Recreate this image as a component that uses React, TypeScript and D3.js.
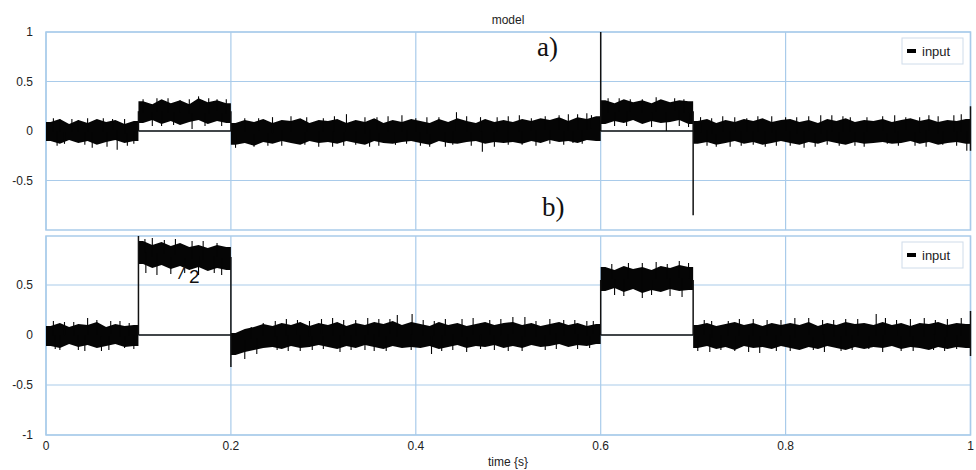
import React from "react";
import * as d3 from "d3";

// ---------- data ----------
const xTicks = [0, 0.2, 0.4, 0.6, 0.8, 1];
const xTickLabels = ["0", "0.2", "0.4", "0.6", "0.8", "1"];
const yTicksTop = [1, 0.5, 0, -0.5];
const yTicksBottom = [0.5, 0, -0.5, -1];
const segmentBreaks = [0, 0.1, 0.2, 0.6, 0.7, 1];
const inputPulses = [[0.1, 0.2], [0.6, 0.7]];

// panel a) output envelope, one value per 0.01 s bin
const topUpper = [
  0.09, 0.12, 0.07, 0.11, 0.08, 0.12, 0.09, 0.11, 0.07, 0.10,
  0.30, 0.27, 0.32, 0.28, 0.31, 0.27, 0.33, 0.29, 0.31, 0.28,
  0.08, 0.11, 0.09, 0.12, 0.08, 0.11, 0.10, 0.13, 0.08, 0.11,
  0.10, 0.12, 0.08, 0.11, 0.09, 0.13, 0.08, 0.11, 0.09, 0.12,
  0.10, 0.08, 0.12, 0.09, 0.13, 0.10, 0.08, 0.12, 0.09, 0.11,
  0.09, 0.12, 0.10, 0.13, 0.11, 0.14, 0.10, 0.14, 0.12, 0.15,
  0.31, 0.28, 0.32, 0.29, 0.31, 0.28, 0.32, 0.29, 0.31, 0.30,
  0.10, 0.12, 0.08, 0.11, 0.09, 0.12, 0.10, 0.13, 0.09, 0.11,
  0.12, 0.09, 0.11, 0.08, 0.12, 0.10, 0.13, 0.09, 0.11, 0.10,
  0.12, 0.09, 0.11, 0.13, 0.10, 0.12, 0.09, 0.11, 0.10, 0.12,
];
const topLower = [
  -0.10, -0.13, -0.09, -0.12, -0.10, -0.14, -0.11, -0.09, -0.12, -0.10,
  0.08, 0.11, 0.07, 0.10, 0.06, 0.09, 0.11, 0.07, 0.10, 0.08,
  -0.14, -0.12, -0.15, -0.11, -0.13, -0.10, -0.12, -0.14, -0.10, -0.12,
  -0.11, -0.13, -0.10, -0.12, -0.14, -0.10, -0.12, -0.13, -0.11, -0.10,
  -0.12, -0.14, -0.10, -0.12, -0.13, -0.11, -0.10, -0.13, -0.11, -0.12,
  -0.11, -0.13, -0.10, -0.12, -0.09, -0.11, -0.10, -0.12, -0.09, -0.10,
  0.07, 0.10, 0.08, 0.11, 0.07, 0.10, 0.08, 0.09, 0.11, 0.07,
  -0.13, -0.11, -0.14, -0.12, -0.10, -0.13, -0.11, -0.14, -0.12, -0.10,
  -0.12, -0.14, -0.11, -0.13, -0.10, -0.12, -0.14, -0.11, -0.13, -0.12,
  -0.11, -0.13, -0.12, -0.10, -0.13, -0.11, -0.14, -0.12, -0.11, -0.13,
];
const topSpikeT = [
  0.015, 0.035, 0.062, 0.085, 0.12, 0.145, 0.165, 0.185, 0.23, 0.265, 0.3, 0.325,
  0.345, 0.37, 0.4, 0.425, 0.444, 0.47, 0.5, 0.525, 0.555, 0.575, 0.59, 0.62,
  0.645, 0.68, 0.72, 0.745, 0.77, 0.8, 0.825, 0.85, 0.87, 0.905, 0.93, 0.955, 0.99,
  0.02, 0.05, 0.077, 0.095, 0.115, 0.158, 0.19, 0.205, 0.24, 0.28, 0.31, 0.335,
  0.36, 0.39, 0.415, 0.44, 0.472, 0.5, 0.53, 0.56, 0.58, 0.615, 0.671, 0.695,
  0.715, 0.74, 0.765, 0.79, 0.82, 0.845, 0.875, 0.91, 0.94, 0.97, 0.996,
];
const topSpikeV = [
  0.12, 0.11, 0.13, 0.12, 0.33, 0.31, 0.35, 0.32, 0.13, 0.15, 0.13, 0.17,
  0.14, 0.15, 0.13, 0.14, 0.19, 0.14, 0.15, 0.13, 0.16, 0.17, 0.16, 0.33,
  0.32, 0.33, 0.13, 0.14, 0.15, 0.14, 0.15, 0.16, 0.14, 0.15, 0.14, 0.16, 0.17,
  -0.13, -0.17, -0.19, -0.13, 0.05, 0.02, 0.05, -0.17, -0.15, -0.14, -0.16, -0.14,
  -0.15, -0.13, -0.16, -0.14, -0.21, -0.14, -0.15, -0.14, -0.13, 0.05, 0.0, 0.04,
  -0.15, -0.16, -0.14, -0.15, -0.17, -0.14, -0.15, -0.13, -0.15, -0.14, -0.2,
];
const topFuzzT = [
  0.008, 0.028, 0.045, 0.072, 0.105, 0.132, 0.155, 0.176, 0.195, 0.215, 0.245, 0.282,
  0.312, 0.358, 0.385, 0.412, 0.455, 0.488, 0.512, 0.54, 0.565, 0.585, 0.608, 0.632,
  0.66, 0.69, 0.708, 0.732, 0.758, 0.785, 0.812, 0.838, 0.862, 0.888, 0.918, 0.945,
  0.965, 0.982,
  0.012, 0.042, 0.066, 0.088, 0.125, 0.138, 0.172, 0.225, 0.255, 0.295, 0.322, 0.35,
  0.378, 0.405, 0.432, 0.46, 0.485, 0.515, 0.545, 0.57, 0.628, 0.655, 0.685, 0.725,
  0.752, 0.778, 0.805, 0.832, 0.858, 0.885, 0.922, 0.952, 0.985,
];
const topFuzzV = [
  0.13, 0.12, 0.13, 0.12, 0.32, 0.33, 0.32, 0.33, 0.32, 0.13, 0.14, 0.14,
  0.15, 0.14, 0.16, 0.14, 0.15, 0.14, 0.16, 0.15, 0.17, 0.18, 0.33, 0.32,
  0.34, 0.32, 0.14, 0.15, 0.13, 0.15, 0.14, 0.16, 0.15, 0.14, 0.16, 0.14,
  0.15, 0.16,
  -0.15, -0.14, -0.16, -0.15, 0.05, 0.06, 0.05, -0.16, -0.15, -0.16, -0.15, -0.16,
  -0.14, -0.15, -0.16, -0.15, -0.16, -0.14, -0.13, -0.12, 0.05, 0.04, 0.05, -0.16,
  -0.15, -0.16, -0.15, -0.16, -0.15, -0.16, -0.15, -0.16, -0.15,
];
// vertical strokes at the switching instants: time, from, to
const topJumpT = [0.1, 0.2, 0.6, 0.7, 1.0];
const topJumpFrom = [0, 0.2, 0, 0.2, -0.2];
const topJumpTo = [0.2, 0, 1.0, -0.85, 0.25];

// panel b) output envelope
const botUpper = [
  0.09, 0.12, 0.08, 0.11, 0.10, 0.13, 0.08, 0.11, 0.09, 0.10,
  0.94, 0.90, 0.93, 0.89, 0.92, 0.88, 0.90, 0.87, 0.90, 0.88,
  0.02, 0.06, 0.08, 0.11, 0.09, 0.12, 0.10, 0.13, 0.09, 0.12,
  0.10, 0.13, 0.09, 0.12, 0.10, 0.13, 0.11, 0.14, 0.10, 0.13,
  0.11, 0.09, 0.13, 0.10, 0.12, 0.09, 0.11, 0.13, 0.10, 0.12,
  0.13, 0.10, 0.12, 0.09, 0.11, 0.13, 0.10, 0.12, 0.09, 0.11,
  0.68, 0.65, 0.69, 0.66, 0.68, 0.65, 0.69, 0.67, 0.70, 0.68,
  0.10, 0.12, 0.09, 0.11, 0.13, 0.10, 0.12, 0.09, 0.12, 0.10,
  0.12, 0.10, 0.13, 0.09, 0.12, 0.10, 0.13, 0.11, 0.12, 0.10,
  0.13, 0.10, 0.12, 0.09, 0.12, 0.11, 0.13, 0.10, 0.12, 0.11,
];
const botLower = [
  -0.11, -0.13, -0.09, -0.12, -0.10, -0.13, -0.11, -0.09, -0.12, -0.11,
  0.71, 0.67, 0.70, 0.66, 0.69, 0.65, 0.68, 0.64, 0.67, 0.65,
  -0.20, -0.17, -0.15, -0.13, -0.12, -0.14, -0.11, -0.13, -0.12, -0.10,
  -0.12, -0.14, -0.11, -0.13, -0.10, -0.12, -0.14, -0.11, -0.13, -0.12,
  -0.13, -0.11, -0.14, -0.12, -0.10, -0.13, -0.11, -0.12, -0.10, -0.13,
  -0.11, -0.13, -0.10, -0.12, -0.11, -0.09, -0.12, -0.10, -0.11, -0.09,
  0.44, 0.47, 0.43, 0.46, 0.42, 0.45, 0.43, 0.46, 0.44, 0.45,
  -0.13, -0.11, -0.14, -0.12, -0.15, -0.11, -0.13, -0.12, -0.14, -0.11,
  -0.13, -0.15, -0.12, -0.14, -0.11, -0.13, -0.15, -0.12, -0.14, -0.12,
  -0.13, -0.11, -0.14, -0.12, -0.13, -0.15, -0.12, -0.14, -0.12, -0.13,
];
const botSpikeT = [
  0.02, 0.045, 0.07, 0.09, 0.115, 0.14, 0.17, 0.235, 0.26, 0.285, 0.31, 0.335,
  0.36, 0.38, 0.396, 0.42, 0.45, 0.48, 0.505, 0.53, 0.56, 0.585, 0.63, 0.66,
  0.685, 0.72, 0.75, 0.78, 0.81, 0.84, 0.865, 0.898, 0.92, 0.95, 0.975,
  0.01, 0.035, 0.06, 0.085, 0.12, 0.15, 0.19, 0.215, 0.25, 0.275, 0.3, 0.33,
  0.355, 0.417, 0.44, 0.47, 0.5, 0.54, 0.575, 0.615, 0.645, 0.675, 0.705, 0.73,
  0.76, 0.79, 0.83, 0.86, 0.89, 0.925, 0.96, 0.985,
];
const botSpikeV = [
  0.13, 0.17, 0.14, 0.12, 0.97, 0.96, 0.94, 0.12, 0.16, 0.14, 0.17, 0.15,
  0.16, 0.2, 0.21, 0.14, 0.16, 0.15, 0.18, 0.14, 0.15, 0.14, 0.72, 0.73,
  0.74, 0.14, 0.16, 0.15, 0.17, 0.15, 0.16, 0.21, 0.15, 0.17, 0.16,
  -0.14, -0.15, -0.16, -0.13, 0.6, 0.62, 0.6, -0.24, -0.15, -0.16, -0.14, -0.15,
  -0.16, -0.19, -0.15, -0.14, -0.16, -0.15, -0.14, 0.4, 0.37, 0.39, -0.16, -0.15,
  -0.17, -0.16, -0.15, -0.16, -0.14, -0.16, -0.15, -0.14,
];
const botFuzzT = [
  0.008, 0.03, 0.055, 0.08, 0.107, 0.128, 0.158, 0.185, 0.222, 0.248, 0.272, 0.298,
  0.322, 0.348, 0.372, 0.408, 0.432, 0.462, 0.492, 0.518, 0.545, 0.572, 0.592, 0.612,
  0.645, 0.672, 0.695, 0.712, 0.738, 0.765, 0.795, 0.825, 0.852, 0.878, 0.908, 0.935,
  0.962, 0.99,
  0.015, 0.042, 0.068, 0.095, 0.108, 0.135, 0.165, 0.182, 0.228, 0.262, 0.288, 0.318,
  0.345, 0.368, 0.395, 0.428, 0.455, 0.485, 0.515, 0.552, 0.588, 0.625, 0.655, 0.688,
  0.718, 0.745, 0.772, 0.805, 0.842, 0.872, 0.905, 0.938, 0.972,
];
const botFuzzV = [
  0.14, 0.13, 0.15, 0.14, 0.96, 0.95, 0.94, 0.92, 0.08, 0.14, 0.15, 0.16,
  0.15, 0.17, 0.16, 0.15, 0.16, 0.17, 0.16, 0.18, 0.16, 0.15, 0.14, 0.71,
  0.72, 0.71, 0.72, 0.15, 0.14, 0.16, 0.15, 0.17, 0.15, 0.16, 0.17, 0.16,
  0.15, 0.17,
  -0.15, -0.16, -0.15, -0.14, 0.62, 0.61, 0.6, 0.62, -0.19, -0.16, -0.15, -0.17,
  -0.15, -0.16, -0.15, -0.16, -0.17, -0.15, -0.16, -0.14, -0.13, 0.39, 0.4, 0.38,
  -0.17, -0.16, -0.18, -0.16, -0.17, -0.15, -0.17, -0.16, -0.16,
];
const botJumpT = [0.1, 0.2, 0.6, 0.7, 1.0];
const botJumpFrom = [0, 0.78, 0, 0.55, -0.21];
const botJumpTo = [0.99, -0.32, 0.55, 0, 0.24];

// ---------- layout ----------
const W = 976;
const H = 470;
const X0 = 46;
const X1 = 970.5;
const GRID = "#a9cbea";
const TEXT = "#222";
const FONT = "Liberation Sans, Arial, sans-serif";

const x = d3.scaleLinear().domain([0, 1]).range([X0, X1]);

type PanelProps = {
  y: d3.ScaleLinear<number, number>;
  top: number;
  bottom: number;
  yTicks: number[];
  upper: number[];
  lower: number[];
  spikeT: number[];
  spikeV: number[];
  jumpT: number[];
  jumpFrom: number[];
  jumpTo: number[];
  legendY: number;
};

function Panel(p: PanelProps) {
  const { y } = p;
  const segs: [number, number][] = [];
  for (let i = 0; i < segmentBreaks.length - 1; i++) segs.push([segmentBreaks[i], segmentBreaks[i + 1]]);
  const area = d3
    .area<{ t: number; u: number; l: number }>()
    .x((d) => x(d.t))
    .y0((d) => y(d.l))
    .y1((d) => y(d.u))
    .curve(d3.curveLinear);

  const segPaths = segs.map(([s, e]) => {
    const i0 = Math.round(s * 100);
    const i1 = Math.round(e * 100) - 1;
    const pts: { t: number; u: number; l: number }[] = [];
    pts.push({ t: s, u: p.upper[i0], l: p.lower[i0] });
    for (let i = i0; i <= i1; i++) pts.push({ t: (i + 0.5) / 100, u: p.upper[i], l: p.lower[i] });
    pts.push({ t: e, u: p.upper[i1], l: p.lower[i1] });
    return area(pts) as string;
  });

  return (
    <g>
      {xTicks.map((t) => (
        <line key={"gx" + t} x1={x(t)} x2={x(t)} y1={p.top} y2={p.bottom} stroke={GRID} strokeWidth={1.2} />
      ))}
      {p.yTicks.map((v) => (
        <line key={"gy" + v} x1={X0} x2={X1} y1={y(v)} y2={y(v)} stroke={GRID} strokeWidth={1.2} />
      ))}
      <rect x={X0} y={p.top} width={X1 - X0} height={p.bottom - p.top} fill="none" stroke={GRID} strokeWidth={1.5} />
      {p.yTicks.map((v) => (
        <text key={"ty" + v} x={33} y={y(v)} dy="0.35em" textAnchor="end" fontSize={12} fill={TEXT} fontFamily={FONT}>
          {String(v)}
        </text>
      ))}
      {inputPulses.map(([s, e], i) => (
        <line key={"in" + i} x1={x(s)} x2={x(e)} y1={y(0)} y2={y(0)} stroke="#111" strokeWidth={1.5} />
      ))}
      {segPaths.map((d, i) => (
        <path key={"seg" + i} d={d} fill="#050505" />
      ))}
      {p.spikeT.map((t, i) => {
        const b = Math.min(99, Math.floor(t * 100));
        const base = (p.upper[b] + p.lower[b]) / 2;
        return (
          <line key={"sp" + i} x1={x(t)} x2={x(t)} y1={y(base)} y2={y(p.spikeV[i])} stroke="#050505" strokeWidth={1.1} />
        );
      })}
      {p.jumpT.map((t, i) => (
        <line key={"j" + i} x1={x(t)} x2={x(t)} y1={y(p.jumpFrom[i])} y2={y(p.jumpTo[i])} stroke="#111" strokeWidth={1.5} />
      ))}
      <rect x={902} y={p.legendY} width={61} height={26} fill="white" stroke="#cfdcea" strokeWidth={1} />
      <line x1={907} x2={916} y1={p.legendY + 13} y2={p.legendY + 13} stroke="#000" strokeWidth={4} />
      <text x={922} y={p.legendY + 13} dy="0.35em" fontSize={13} fill={TEXT} fontFamily={FONT}>
        input
      </text>
    </g>
  );
}

export default function App() {
  const yTop = d3.scaleLinear().domain([-1, 1]).range([230, 32]);
  const yBot = d3.scaleLinear().domain([-1, 0.99]).range([435, 236]);
  return (
    <svg width={W} height={H} style={{ position: "absolute", left: 0, top: 0, background: "white" }}>
      <rect x={0} y={0} width={W} height={H} fill="white" />
      <text x={508} y={20} dy="0.35em" textAnchor="middle" fontSize={12} fill={TEXT} fontFamily={FONT}>
        model
      </text>
      <Panel
        y={yTop}
        top={32}
        bottom={230}
        yTicks={yTicksTop}
        upper={topUpper}
        lower={topLower}
        spikeT={topSpikeT.concat(topFuzzT)}
        spikeV={topSpikeV.concat(topFuzzV)}
        jumpT={topJumpT}
        jumpFrom={topJumpFrom}
        jumpTo={topJumpTo}
        legendY={38}
      />
      <Panel
        y={yBot}
        top={236}
        bottom={435}
        yTicks={yTicksBottom}
        upper={botUpper}
        lower={botLower}
        spikeT={botSpikeT.concat(botFuzzT)}
        spikeV={botSpikeV.concat(botFuzzV)}
        jumpT={botJumpT}
        jumpFrom={botJumpFrom}
        jumpTo={botJumpTo}
        legendY={242}
      />
      {xTicks.map((t, i) => (
        <text key={"tx" + t} x={x(t)} y={450} textAnchor="middle" fontSize={12} fill={TEXT} fontFamily={FONT}>
          {xTickLabels[i]}
        </text>
      ))}
      <text x={508} y={466} textAnchor="middle" fontSize={12} fill={TEXT} fontFamily={FONT}>
        time {"{s}"}
      </text>
      <text x={537} y={56} fontSize={27} fill="#111" fontFamily="Liberation Serif, Times New Roman, serif">
        a)
      </text>
      <text x={542} y={216} fontSize={27} fill="#111" fontFamily="Liberation Serif, Times New Roman, serif">
        b)
      </text>
      <text x={179} y={279} fontSize={18} fill="#111" fontFamily={FONT} fontStyle="italic">
        /
      </text>
      <text x={189} y={283} fontSize={19} fill="#111" fontFamily={FONT}>
        2
      </text>
    </svg>
  );
}
